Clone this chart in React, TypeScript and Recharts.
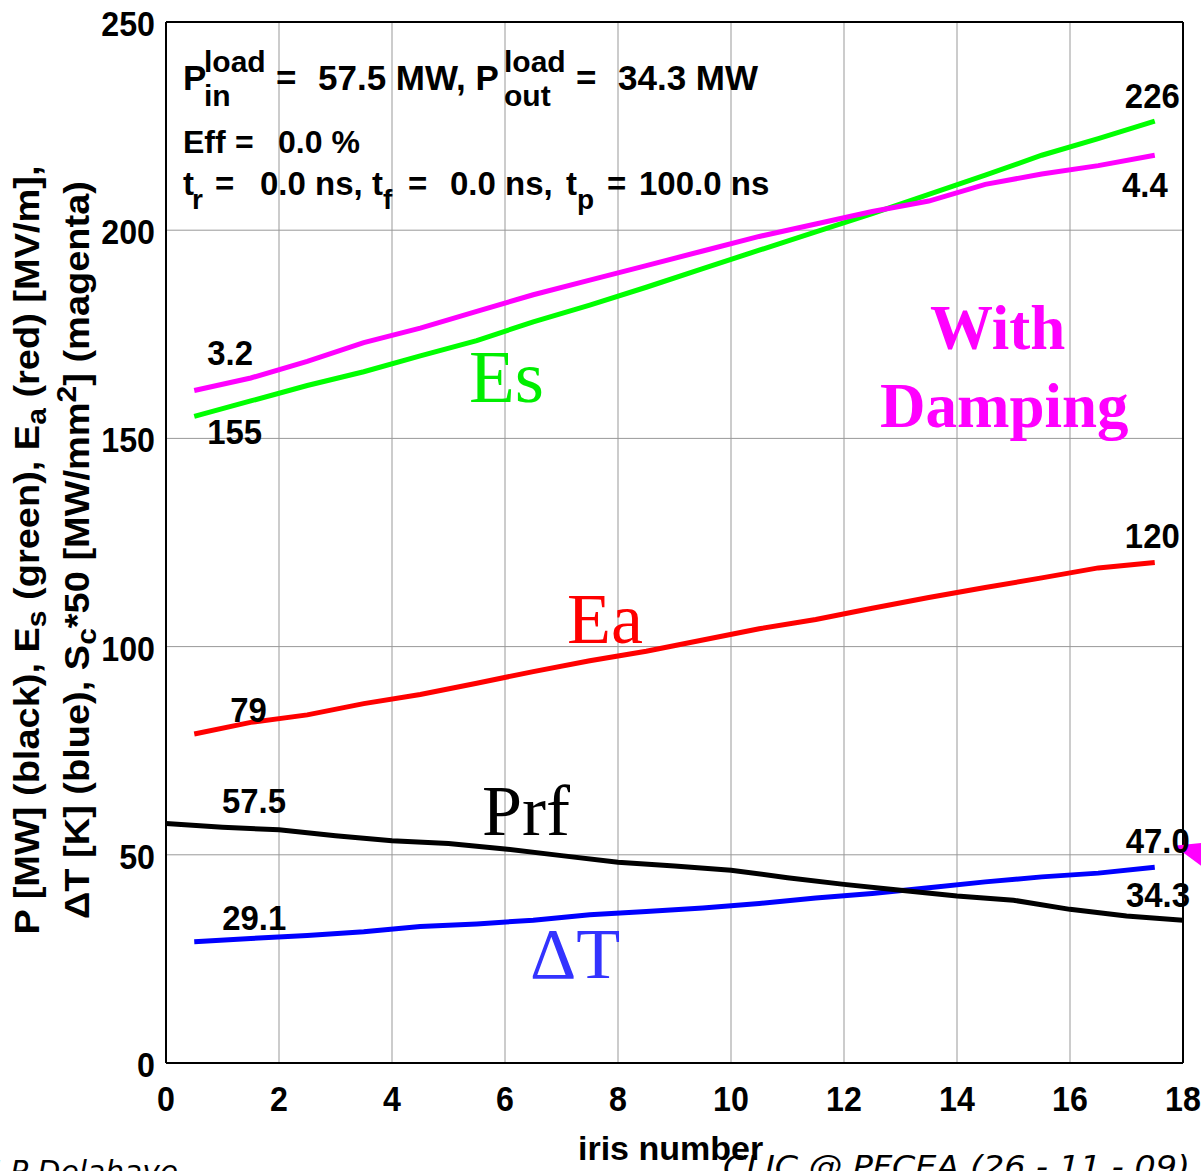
import React from "react";
import { LineChart, Line, XAxis, YAxis, CartesianGrid, ReferenceLine, ReferenceDot, LabelList } from "recharts";

// iris positions: cell-centred quantities sit at half-integers, power at iris edges
const IRIS_MID = [0.5, 1.5, 2.5, 3.5, 4.5, 5.5, 6.5, 7.5, 8.5, 9.5, 10.5, 11.5, 12.5, 13.5, 14.5, 15.5, 16.5, 17.5];
const IRIS_EDGE = [0, 1, 2, 3, 4, 5, 6, 7, 8, 9, 10, 11, 12, 13, 14, 15, 16, 17, 18];

const ES = [155.3, 159, 162.7, 166, 169.8, 173.5, 178, 182, 186.3, 190.8, 195.2, 199.6, 204, 208.6, 213.2, 218, 222, 226.2];
const SC = [3.23, 3.29, 3.37, 3.46, 3.53, 3.61, 3.69, 3.76, 3.83, 3.9, 3.97, 4.03, 4.09, 4.14, 4.22, 4.27, 4.31, 4.36];
const EA = [79, 81.8, 83.6, 86.3, 88.5, 91.2, 94, 96.6, 98.9, 101.6, 104.3, 106.5, 109.2, 111.8, 114.2, 116.5, 118.9, 120.2];
const DT = [29.1, 29.9, 30.6, 31.5, 32.8, 33.4, 34.3, 35.6, 36.4, 37.2, 38.3, 39.6, 40.7, 42.1, 43.5, 44.7, 45.6, 47.0];
const PRF = [57.5, 56.6, 56.0, 54.6, 53.4, 52.7, 51.4, 49.8, 48.2, 47.3, 46.3, 44.5, 42.9, 41.5, 40.1, 39.1, 36.9, 35.3, 34.3];

const X_TICKS = [0, 2, 4, 6, 8, 10, 12, 14, 16, 18];
const Y_TICKS = [0, 50, 100, 150, 200, 250];
const SC_SCALE = 50;

const sans = '"Liberation Sans", Arial, Helvetica, sans-serif';
const serif = '"Liberation Serif", "Times New Roman", serif';

const esData = IRIS_MID.map((x, i) => ({ x, y: ES[i] }));
const scData = IRIS_MID.map((x, i) => ({ x, y: SC[i] * SC_SCALE, sc: SC[i] }));
const eaData = IRIS_MID.map((x, i) => ({ x, y: EA[i] }));
const dtData = IRIS_MID.map((x, i) => ({ x, y: DT[i] }));
const prfData = IRIS_EDGE.map((x, i) => ({ x, y: PRF[i] }));

type Pos = { dx: number; dy: number; anchor: "start" | "end" };

// numbers printed at the first and last point of each curve
function endLabels(n: number, first: Pos, last: Pos, digits: number) {
  return (p: any) => {
    const c = p.index === 0 ? first : p.index === n - 1 ? last : null;
    if (!c) return null;
    const vb = p.viewBox || p;
    return (
      <text
        transform={`translate(${vb.x + c.dx},${vb.y + c.dy}) scale(0.94,1)`}
        textAnchor={c.anchor}
        fontFamily={sans}
        fontWeight="bold"
        fontSize={35}
        fill="#000"
      >
        {Number(p.value).toFixed(digits)}
      </text>
    );
  };
}

const XTick = (p: any) => (
  <text transform={`translate(${p.x},${p.y + 48}) scale(0.92,1)`} textAnchor="middle" fontFamily={sans} fontWeight="bold" fontSize={35} fill="#000">
    {p.payload.value}
  </text>
);

const YTick = (p: any) => (
  <text transform={`translate(${p.x - 11},${p.y + 14}) scale(0.92,1)`} textAnchor="end" fontFamily={sans} fontWeight="bold" fontSize={35} fill="#000">
    {p.payload.value}
  </text>
);

// small magenta marker sitting on the right frame
const Marker = (p: any) => (
  <polygon points={`${p.cx - 9},${p.cy - 9} ${p.cx + 40},${p.cy - 14} ${p.cx + 22},${p.cy + 14}`} fill="#ff00ff" />
);

const b = { fontFamily: sans, fontWeight: 700 as const, fill: "#000" };

export default function App() {
  return (
    <div style={{ position: "absolute", left: 0, top: 0, width: 1201, height: 1171, background: "#fff", overflow: "hidden" }}>
      <LineChart width={1201} height={1171} margin={{ top: 22, right: 18, bottom: 63, left: 106 }}>
        <CartesianGrid stroke="#999" strokeWidth={1} />
        <XAxis
          dataKey="x"
          type="number"
          domain={[0, 18]}
          ticks={X_TICKS}
          height={45}
          tickLine={false}
          tickSize={0}
          tickMargin={0}
          axisLine={{ stroke: "#000", strokeWidth: 2 }}
          tick={<XTick />}
          allowDataOverflow
        />
        <YAxis
          type="number"
          domain={[0, 250]}
          ticks={Y_TICKS}
          width={60}
          tickLine={false}
          tickSize={0}
          tickMargin={0}
          axisLine={{ stroke: "#000", strokeWidth: 2 }}
          tick={<YTick />}
        />
        <ReferenceLine x={18} stroke="#000" strokeWidth={2} />
        <ReferenceLine y={250} stroke="#000" strokeWidth={2} />

        <Line data={esData} dataKey="y" type="linear" stroke="#00ff00" strokeWidth={5} dot={false} isAnimationActive={false}>
          <LabelList dataKey="y" content={endLabels(ES.length, { dx: 13, dy: 28, anchor: "start" }, { dx: 25, dy: -13, anchor: "end" }, 0)} />
        </Line>
        <Line data={scData} dataKey="y" type="linear" stroke="#ff00ff" strokeWidth={5} dot={false} isAnimationActive={false}>
          <LabelList dataKey="sc" content={endLabels(SC.length, { dx: 13, dy: -26, anchor: "start" }, { dx: 13, dy: 42, anchor: "end" }, 1)} />
        </Line>
        <Line data={eaData} dataKey="y" type="linear" stroke="#ff0000" strokeWidth={5} dot={false} isAnimationActive={false}>
          <LabelList dataKey="y" content={endLabels(EA.length, { dx: 36, dy: -12, anchor: "start" }, { dx: 25, dy: -14, anchor: "end" }, 0)} />
        </Line>
        <Line data={dtData} dataKey="y" type="linear" stroke="#0000ff" strokeWidth={5} dot={false} isAnimationActive={false}>
          <LabelList dataKey="y" content={endLabels(DT.length, { dx: 28, dy: -12, anchor: "start" }, { dx: 35, dy: -14, anchor: "end" }, 1)} />
        </Line>
        <Line data={prfData} dataKey="y" type="linear" stroke="#000000" strokeWidth={5} dot={false} isAnimationActive={false}>
          <LabelList dataKey="y" content={endLabels(PRF.length, { dx: 56, dy: -11, anchor: "start" }, { dx: 7, dy: -13, anchor: "end" }, 1)} />
        </Line>

        <ReferenceDot x={18} y={50} r={0} shape={<Marker />} />
      </LineChart>

      <svg width={1201} height={1171} style={{ position: "absolute", left: 0, top: 0, pointerEvents: "none" }}>
        {/* run parameters */}
        <text x={183} y={90} fontSize={35} {...b}>P</text>
        <text x={204} y={72} fontSize={30} {...b}>load</text>
        <text x={204} y={106} fontSize={30} {...b}>in</text>
        <text x={276} y={90} fontSize={35} {...b}>=</text>
        <text x={318} y={90} fontSize={35} {...b}>57.5 MW, P</text>
        <text x={504} y={72} fontSize={30} {...b}>load</text>
        <text x={504} y={106} fontSize={30} {...b}>out</text>
        <text x={576} y={90} fontSize={35} {...b}>=</text>
        <text x={618} y={90} fontSize={35} {...b}>34.3 MW</text>

        <text x={183} y={153} fontSize={32} {...b}>Eff</text>
        <text x={235} y={153} fontSize={32} {...b}>=</text>
        <text x={278} y={153} fontSize={32} {...b}>0.0 %</text>

        <text x={183} y={195} fontSize={33} {...b}>t</text>
        <text x={192} y={209} fontSize={28} {...b}>r</text>
        <text x={215} y={195} fontSize={33} {...b}>=</text>
        <text x={260} y={195} fontSize={33} {...b}>0.0 ns,</text>
        <text x={372} y={195} fontSize={33} {...b}>t</text>
        <text x={383} y={209} fontSize={28} {...b}>f</text>
        <text x={408} y={195} fontSize={33} {...b}>=</text>
        <text x={450} y={195} fontSize={33} {...b}>0.0 ns,</text>
        <text x={566} y={195} fontSize={33} {...b}>t</text>
        <text x={577} y={209} fontSize={28} {...b}>p</text>
        <text x={607} y={195} fontSize={33} {...b}>=</text>
        <text x={639} y={195} fontSize={33} {...b}>100.0 ns</text>

        {/* curve names */}
        <text x={469} y={402} fontFamily={serif} fontSize={75} fill="#00ee00">Es</text>
        <text x={567} y={643} fontFamily={serif} fontSize={72} fill="#ff0000">Ea</text>
        <text x={482} y={835} fontFamily={serif} fontSize={72} fill="#000">Prf</text>
        <text x={530} y={978} fontFamily={serif} fontSize={72} fill="#3333ff">ΔT</text>
        <text x={930} y={349} fontFamily={serif} fontWeight={700} fontSize={63} fill="#ff00ff">With</text>
        <text x={880} y={427} fontFamily={serif} fontWeight={700} fontSize={63} fill="#ff00ff">Damping</text>

        {/* y axis title, two lines */}
        <text transform="translate(39,550) rotate(-90) scale(1,0.9)" textAnchor="middle" fontSize={38} {...b}>
          P [MW] (black), E<tspan dy={8} fontSize={30}>s</tspan>
          <tspan dy={-8}>  (green), E</tspan>
          <tspan dy={8} fontSize={30}>a</tspan>
          <tspan dy={-8}>  (red) [MV/m],</tspan>
        </text>
        <text transform="translate(89,550) rotate(-90) scale(1,0.9)" textAnchor="middle" fontSize={38} {...b}>
          ΔT [K] (blue), S<tspan dy={8} fontSize={30}>c</tspan>
          <tspan dy={-8}>*50 [MW/mm</tspan>
          <tspan dy={-15} fontSize={30}>2</tspan>
          <tspan dy={15}>] (magenta)</tspan>
        </text>

        <text x={578} y={1160} fontSize={34} {...b}>iris number</text>
        <text x={-8} y={1182} fontFamily='"DejaVu Sans", sans-serif' fontStyle="italic" fontSize={30} fill="#000" textLength={186} lengthAdjust="spacingAndGlyphs">
          J.P Delahaye
        </text>
        <text x={723} y={1177} fontFamily='"DejaVu Sans", sans-serif' fontStyle="italic" fontSize={30} fill="#000" textLength={467} lengthAdjust="spacingAndGlyphs">
          CLIC @ PFCEA  (26 - 11 - 09)
        </text>
      </svg>
    </div>
  );
}
